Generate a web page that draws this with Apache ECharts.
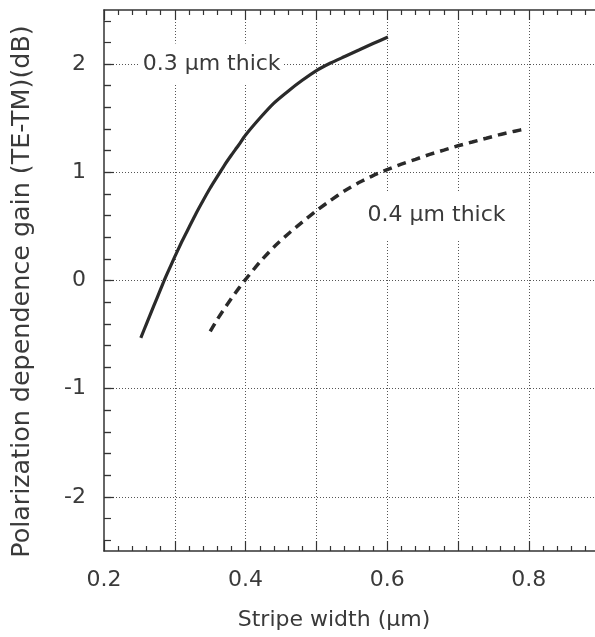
<!DOCTYPE html>
<html>
<head>
<meta charset="utf-8">
<script src="https://cdn.jsdelivr.net/npm/echarts@6/dist/echarts.min.js"></script>
<style>
html,body{margin:0;padding:0;background:#fff;}
#chart{width:595px;height:637px;}
</style>
</head>
<body>
<div id="chart"></div>
<script>
// ---- data ----
var solidX = [0.252, 0.260, 0.270, 0.280, 0.285, 0.290, 0.300, 0.310, 0.320, 0.330, 0.340, 0.350, 0.360, 0.370, 0.380, 0.390, 0.400, 0.420, 0.440, 0.460, 0.480, 0.500, 0.520, 0.540, 0.560, 0.580, 0.601];
var solidY = [-0.53, -0.40, -0.24, -0.08, 0.00, 0.075, 0.22, 0.36, 0.49, 0.62, 0.74, 0.855, 0.96, 1.065, 1.16, 1.25, 1.345, 1.50, 1.64, 1.75, 1.85, 1.94, 2.01, 2.07, 2.13, 2.19, 2.25];
var dashX = [0.350, 0.360, 0.370, 0.380, 0.390, 0.400, 0.420, 0.440, 0.460, 0.480, 0.500, 0.520, 0.540, 0.560, 0.580, 0.600, 0.620, 0.640, 0.660, 0.680, 0.700, 0.720, 0.740, 0.760, 0.780, 0.795];
var dashY = [-0.47, -0.36, -0.26, -0.165, -0.075, 0.01, 0.17, 0.31, 0.43, 0.54, 0.645, 0.74, 0.83, 0.905, 0.97, 1.025, 1.075, 1.12, 1.165, 1.205, 1.245, 1.28, 1.315, 1.35, 1.38, 1.40];
var seriesNames = ['0.3 \u00b5m thick', '0.4 \u00b5m thick'];
var labelPos = [[0.352, 2.0], [0.6697, 0.60]];
var xTitle = 'Stripe width (\u00b5m)';
var yTitle = 'Polarization dependence gain (TE-TM)(dB)';
var xMin = 0.2, xMax = 0.9203;

function zip(a, b) { return a.map(function (v, i) { return [v, b[i]]; }); }

var FONT = 'DejaVu Sans';
var TXT = '#3a3a3a';
var LINE = '#333';
var GRIDC = '#555';
var dotted = { type: [1, 2], width: 1, color: GRIDC };

var L = 104, W = 510, T = 10, H = 541;
var unit = H / 5;

var chart = echarts.init(document.getElementById('chart'), null, { renderer: 'canvas' });

var option = {
  animation: false,
  backgroundColor: '#fff',
  grid: [
    { left: L, top: T, width: W, height: H, outerBoundsMode: 'none', containLabel: false },
    { left: L, top: T + 0.5 * unit, width: W, height: 4 * unit, outerBoundsMode: 'none', containLabel: false },
    { left: L, top: T + 0.1 * unit, width: W, height: 4.8 * unit, outerBoundsMode: 'none', containLabel: false }
  ],
  xAxis: [
    {
      gridIndex: 0, type: 'value', position: 'bottom', min: xMin, max: xMax, interval: 0.1,
      axisLine: { show: true, onZero: false, lineStyle: { color: LINE, width: 1.5 } },
      axisTick: { show: true, inside: true, length: 10, lineStyle: { color: LINE, width: 1.2 } },
      minorTick: { show: true, splitNumber: 5, length: 5, lineStyle: { color: LINE, width: 1.2 } },
      splitLine: { show: true, showMinLine: false, showMaxLine: false, lineStyle: dotted },
      axisLabel: {
        show: true, margin: 18, color: TXT, fontFamily: FONT, fontSize: 22,
        formatter: function (v) { var k = Math.round(v * 100); return (k % 20 === 0 && k < 90) ? (k / 100).toFixed(1) : ''; }
      },
      name: xTitle, nameLocation: 'middle', nameGap: 58,
      nameTextStyle: { color: TXT, fontFamily: FONT, fontSize: 22, padding: [0, 50, 0, 0] }
    },
    {
      gridIndex: 0, type: 'value', position: 'top', min: xMin, max: xMax, interval: 0.1,
      axisLine: { show: true, onZero: false, lineStyle: { color: LINE, width: 1.5 } },
      axisTick: { show: true, inside: true, length: 10, lineStyle: { color: LINE, width: 1.2 } },
      minorTick: { show: true, splitNumber: 5, length: 5, lineStyle: { color: LINE, width: 1.2 } },
      splitLine: { show: false }, axisLabel: { show: false }
    },
    { gridIndex: 1, type: 'value', min: xMin, max: xMax, show: false },
    { gridIndex: 2, type: 'value', min: xMin, max: xMax, show: false }
  ],
  yAxis: [
    {
      gridIndex: 0, type: 'value', min: -2.5, max: 2.5,
      axisLine: { show: true, onZero: false, lineStyle: { color: LINE, width: 1.5 } },
      axisTick: { show: false }, axisLabel: { show: false }, splitLine: { show: false },
      name: yTitle, nameLocation: 'middle', nameGap: 69, nameRotate: 90,
      nameTextStyle: { color: TXT, fontFamily: FONT, fontSize: 25.4, padding: [0, 22, 0, 0] }
    },
    {
      gridIndex: 1, type: 'value', min: -2, max: 2, interval: 1,
      axisLine: { show: false },
      axisTick: { show: true, inside: true, length: 10, lineStyle: { color: LINE, width: 1.2 } },
      minorTick: { show: true, splitNumber: 5, length: 7, lineStyle: { color: LINE, width: 1.2 } },
      splitLine: { show: true, lineStyle: dotted },
      axisLabel: { show: true, margin: 18, color: TXT, fontFamily: FONT, fontSize: 22 }
    },
    {
      gridIndex: 2, type: 'value', min: -2.4, max: 2.4, interval: 0.2,
      axisLine: { show: false },
      axisTick: { show: true, inside: true, length: 7, lineStyle: { color: LINE, width: 1.2 } },
      splitLine: { show: false }, axisLabel: { show: false }
    }
  ],
  series: [
    {
      name: seriesNames[0], type: 'line', xAxisIndex: 0, yAxisIndex: 0,
      data: zip(solidX, solidY), smooth: 0.2, showSymbol: false, symbol: 'none',
      lineStyle: { color: '#2a2a2a', width: 3.2 }, z: 5,
      markPoint: {
        symbol: 'rect', symbolSize: 0, silent: true,
        data: [{ coord: labelPos[0], value: seriesNames[0] }],
        label: {
          show: true, position: 'inside', formatter: seriesNames[0],
          color: TXT, fontFamily: FONT, fontSize: 22,
          backgroundColor: '#fff', padding: [11, 3, 8, 3]
        }
      }
    },
    {
      name: seriesNames[1], type: 'line', xAxisIndex: 0, yAxisIndex: 0,
      data: zip(dashX, dashY), smooth: 0.2, showSymbol: false, symbol: 'none',
      lineStyle: { color: '#2a2a2a', width: 3.5, type: [9, 6] }, z: 5,
      markPoint: {
        symbol: 'rect', symbolSize: 0, silent: true,
        data: [{ coord: labelPos[1], value: seriesNames[1] }],
        label: {
          show: true, position: 'inside', formatter: seriesNames[1],
          color: TXT, fontFamily: FONT, fontSize: 22,
          backgroundColor: '#fff', padding: [16, 3, 9, 3]
        }
      }
    }
  ]
};
chart.setOption(option);
</script>
</body>
</html>
